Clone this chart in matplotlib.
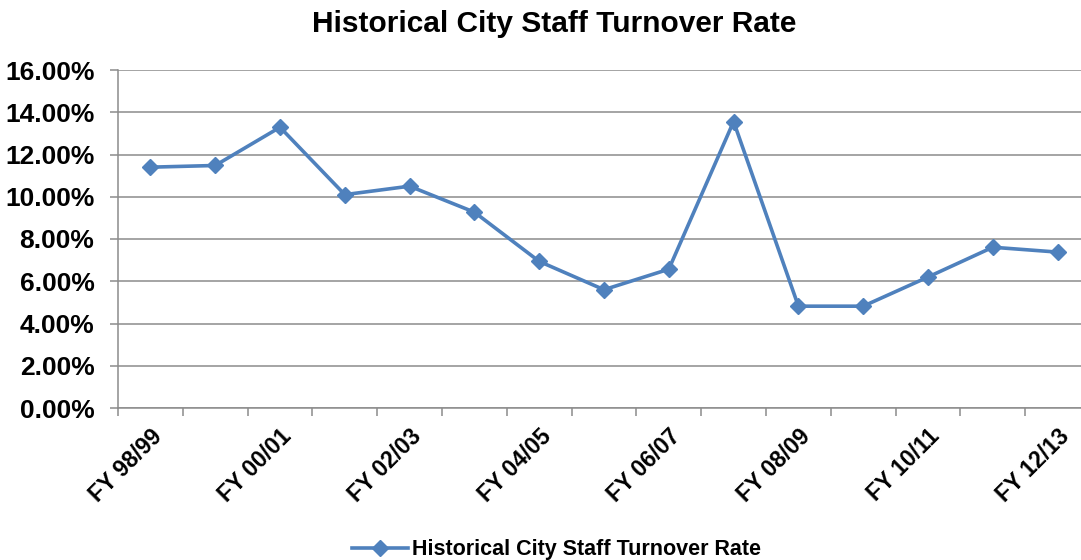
import numpy as np
import matplotlib
matplotlib.use("Agg")
import matplotlib.pyplot as plt
from matplotlib.ticker import PercentFormatter

plt.rcParams["font.family"] = ["Liberation Sans", "DejaVu Sans"]
plt.rcParams["font.weight"] = "bold"

years = ["FY 98/99", "FY 99/00", "FY 00/01", "FY 01/02", "FY 02/03",
         "FY 03/04", "FY 04/05", "FY 05/06", "FY 06/07", "FY 07/08",
         "FY 08/09", "FY 09/10", "FY 10/11", "FY 11/12", "FY 12/13"]
turnover = [11.40, 11.48, 13.29, 10.10, 10.50, 9.27, 6.94, 5.60, 6.57,
            13.56, 4.82, 4.82, 6.20, 7.61, 7.38]

blue = "#4F81BD"
grid = "#8C8C8C"

fig = plt.figure(figsize=(10.81, 5.60), dpi=100)
ax = fig.add_axes([118 / 1081, 1 - 408 / 560, 972 / 1081, 338 / 560])

x = np.arange(len(years))
line, = ax.plot(x, turnover, color=blue, lw=2.6, marker="D", ms=8.5,
                label="Historical City Staff Turnover Rate", zorder=3)

ax.set_xlim(-0.5, len(years) - 0.5)
ax.set_ylim(0, 16)
ax.set_yticks(np.arange(0, 17, 2))
ax.yaxis.set_major_formatter(PercentFormatter(decimals=2))
ax.yaxis.grid(True, color=grid, lw=1.1)
ax.set_axisbelow(True)

# category labels every other year, tick marks between categories
ax.set_xticks(x[::2])
ax.set_xticklabels(years[::2], rotation=45, ha="right", rotation_mode="anchor",
                   fontsize=16.5, fontweight="bold")
ax.set_xticks(np.arange(-0.5, len(years)), minor=True)
ax.tick_params(axis="x", which="major", length=0, pad=12)
ax.tick_params(axis="x", which="minor", length=6, color=grid, width=1.1)
ax.tick_params(axis="y", length=6, color=grid, width=1.1, labelsize=19, pad=11)
for lab in ax.get_yticklabels():
    lab.set_fontweight("bold")

for side in ["top", "right"]:
    ax.spines[side].set_visible(False)
for side in ["left", "bottom"]:
    ax.spines[side].set_color(grid)
    ax.spines[side].set_linewidth(1.1)

fig.text(0.513, 0.958, "Historical City Staff Turnover Rate", ha="center",
         va="center", fontsize=21.5, fontweight="bold")

fig.legend(handles=[line], loc="center", bbox_to_anchor=(0.515, 0.018),
           frameon=False, handlelength=2.6, handletextpad=0.2,
           prop={"weight": "bold", "size": 15.5})

fig.savefig("out.png", dpi=100)
